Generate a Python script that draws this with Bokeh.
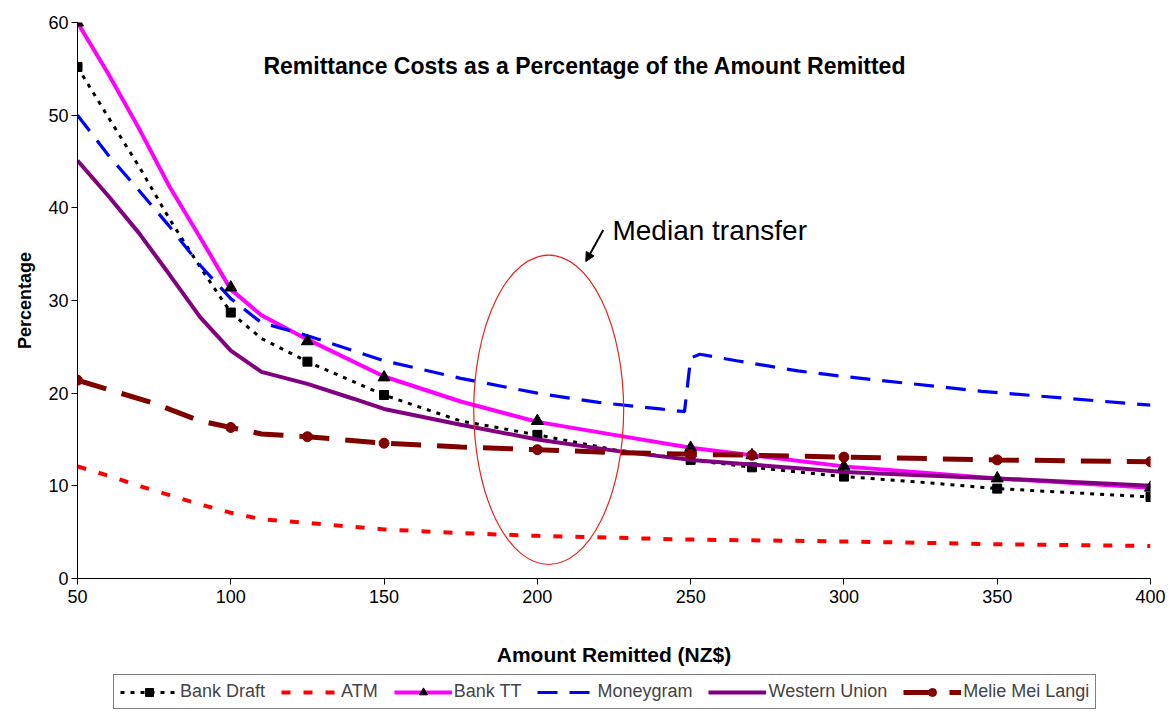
from bokeh.plotting import figure
from bokeh.layouts import column
from bokeh.models import Legend, LegendItem, Label, Arrow, NormalHead, Range1d, FixedTicker
from bokeh.embed import file_html
from bokeh.resources import INLINE

# ---- data ----
bank_draft_x = [50, 60, 70, 80, 90, 100, 110, 125, 150, 175, 200, 225, 250, 270, 300, 325, 350, 400]
bank_draft_y = [55.2, 49.8, 44.5, 38.8, 33.6, 28.7, 25.9, 23.4, 19.8, 17.0, 15.5, 13.9, 12.8, 12.0, 11.0, 10.4, 9.7, 8.8]
marker_x = [50, 100, 125, 150, 200, 250, 270, 300, 350, 400]
bank_draft_m = [55.2, 28.7, 23.4, 19.8, 15.5, 12.8, 12.0, 11.0, 9.7, 8.8]

atm_x = [50, 60, 70, 80, 90, 100, 110, 125, 150, 175, 200, 225, 250, 300, 350, 400]
atm_y = [12.1, 11.1, 10.0, 9.0, 8.0, 7.1, 6.4, 6.0, 5.3, 4.9, 4.6, 4.4, 4.2, 4.0, 3.7, 3.5]

bank_tt_x = [50, 60, 70, 80, 90, 100, 110, 125, 150, 175, 200, 225, 250, 270, 300, 350, 400]
bank_tt_y = [60.0, 54.5, 48.6, 42.3, 36.8, 31.2, 28.4, 25.8, 21.8, 19.1, 16.9, 15.5, 14.1, 13.3, 12.1, 10.8, 9.8]
bank_tt_m = [60.0, 31.4, 25.6, 21.7, 17.0, 14.1, 13.3, 12.1, 10.8, 9.8]

moneygram_x = [50, 60, 70, 80, 90, 100, 110, 125, 150, 175, 200, 220, 240, 248, 250, 253, 265, 285, 300, 345, 400]
moneygram_y = [50.0, 45.7, 41.9, 38.0, 33.8, 30.2, 27.6, 26.2, 23.5, 21.6, 20.0, 19.0, 18.3, 18.0, 23.8, 24.2, 23.5, 22.4, 21.8, 20.2, 18.7]

western_union_x = [50, 60, 70, 80, 90, 100, 110, 125, 140, 150, 175, 200, 225, 250, 285, 300, 350, 400]
western_union_y = [45.1, 41.3, 37.3, 32.8, 28.2, 24.6, 22.3, 21.0, 19.4, 18.3, 16.6, 15.0, 13.8, 12.8, 11.9, 11.5, 10.8, 10.0]

melie_x = [50, 60, 75, 90, 100, 110, 125, 150, 175, 200, 225, 250, 270, 300, 350, 400]
melie_y = [21.4, 20.4, 18.9, 17.0, 16.3, 15.6, 15.3, 14.6, 14.2, 13.9, 13.6, 13.4, 13.3, 13.1, 12.8, 12.6]
melie_m = [21.4, 16.3, 15.3, 14.6, 13.9, 13.4, 13.3, 13.1, 12.8, 12.6]

series_names = ["Bank Draft", "ATM", "Bank TT", "Moneygram", "Western Union", "Melie Mei Langi"]

x_ticks = [50, 100, 150, 200, 250, 300, 350, 400]
y_ticks = [0, 10, 20, 30, 40, 50, 60]

FONT = "Liberation Sans"

# styles
S_BD = dict(line_color="black", line_width=3, line_dash="4 6")
S_ATM = dict(line_color="#ff0000", line_width=4, line_dash="9 13")
S_TT = dict(line_color="#ff00ff", line_width=4)
S_MG = dict(line_color="#0000ff", line_width=3.2, line_dash="20 12")
S_WU = dict(line_color="#800080", line_width=4)
S_ML = dict(line_color="#800000", line_width=5, line_dash="30 16")
M_BD = dict(marker="square", size=9, color="black")
M_TT = dict(marker="triangle", size=12, color="black")
M_ML = dict(marker="circle", size=10, color="#800000")


def draw(fig):
    rs = []
    rs.append([fig.line(bank_draft_x, bank_draft_y, **S_BD), fig.scatter(marker_x, bank_draft_m, **M_BD)])
    rs.append([fig.line(atm_x, atm_y, **S_ATM)])
    rs.append([fig.line(bank_tt_x, bank_tt_y, **S_TT)])
    rs.append([fig.line(moneygram_x, moneygram_y, **S_MG)])
    rs.append([fig.line(western_union_x, western_union_y, **S_WU)])
    ml_line = fig.line(melie_x, melie_y, **S_ML)
    rs[2].append(fig.scatter(marker_x, bank_tt_m, **M_TT))
    rs.append([ml_line, fig.scatter(marker_x, melie_m, **M_ML)])
    return rs


p = figure(width=1173, height=672, output_backend="svg", toolbar_location=None,
           x_range=Range1d(50, 400), y_range=Range1d(0, 60),
           min_border_left=77, min_border_right=23, min_border_top=22, min_border_bottom=94)
p.outline_line_color = None
p.grid.visible = False

for ax in (p.xaxis[0], p.yaxis[0]):
    ax.major_label_text_font = FONT
    ax.major_label_text_font_size = "18px"
    ax.major_label_text_color = "black"
    ax.axis_label_text_font = FONT
    ax.axis_label_text_font_style = "bold"
    ax.axis_label_text_color = "black"
    ax.axis_line_color = "black"
    ax.major_tick_line_color = "black"
    ax.minor_tick_line_color = None
    ax.major_tick_out = 6
    ax.major_tick_in = 0
p.xaxis.ticker = FixedTicker(ticks=x_ticks)
p.yaxis.ticker = FixedTicker(ticks=y_ticks)
p.xaxis.axis_label = "Amount Remitted (NZ$)"
p.yaxis.axis_label = "Percentage"
p.xaxis.axis_label_text_font_size = "21px"
p.yaxis.axis_label_text_font_size = "18px"
p.xaxis.axis_label_standoff = 37
p.yaxis.axis_label_standoff = 10
p.xaxis.major_label_standoff = 5
p.yaxis.major_label_standoff = 3

draw(p)

# annotation
p.ellipse(x=[203.7], y=[18.2], width=48.9, height=33.4, fill_color=None,
          line_color="#e8241c", line_width=1.2)
p.add_layout(Arrow(end=NormalHead(size=9, fill_color="black", line_color="black"),
                   x_start=221.5, y_start=37.6, x_end=215.8, y_end=34.2,
                   line_width=2, line_color="black"))
p.add_layout(Label(x=224.5, y=37.6, text="Median transfer", text_font=FONT,
                   text_font_size="28px", text_baseline="middle", text_align="left",
                   text_color="black"))
p.add_layout(Label(x=215.5, y=55.3, text="Remittance Costs as a Percentage of the Amount Remitted",
                   text_font=FONT, text_font_size="23px", text_font_style="bold",
                   text_baseline="middle", text_align="center", text_color="black"))

# legend strip (series drawn outside its visible range, only the legend shows)
lg = figure(width=1173, height=42, output_backend="svg", toolbar_location=None,
            x_axis_type=None, y_axis_type=None, x_range=Range1d(0, 1), y_range=Range1d(0, 1),
            min_border_left=0, min_border_right=0, min_border_top=0, min_border_bottom=0)
lg.outline_line_color = None
lg.grid.visible = False
renderer_sets = draw(lg)

legend = Legend(items=[LegendItem(label=n, renderers=r) for n, r in zip(series_names, renderer_sets)],
                orientation="horizontal", location=(36, 5),
                label_text_font=FONT, label_text_font_size="18px",
                glyph_width=58, glyph_height=20, label_standoff=2, spacing=16,
                padding=6, margin=0, border_line_color="black", border_line_width=1)
lg.add_layout(legend, "center")

open("out.html", "w").write(file_html(column(p, lg, spacing=0), INLINE))
